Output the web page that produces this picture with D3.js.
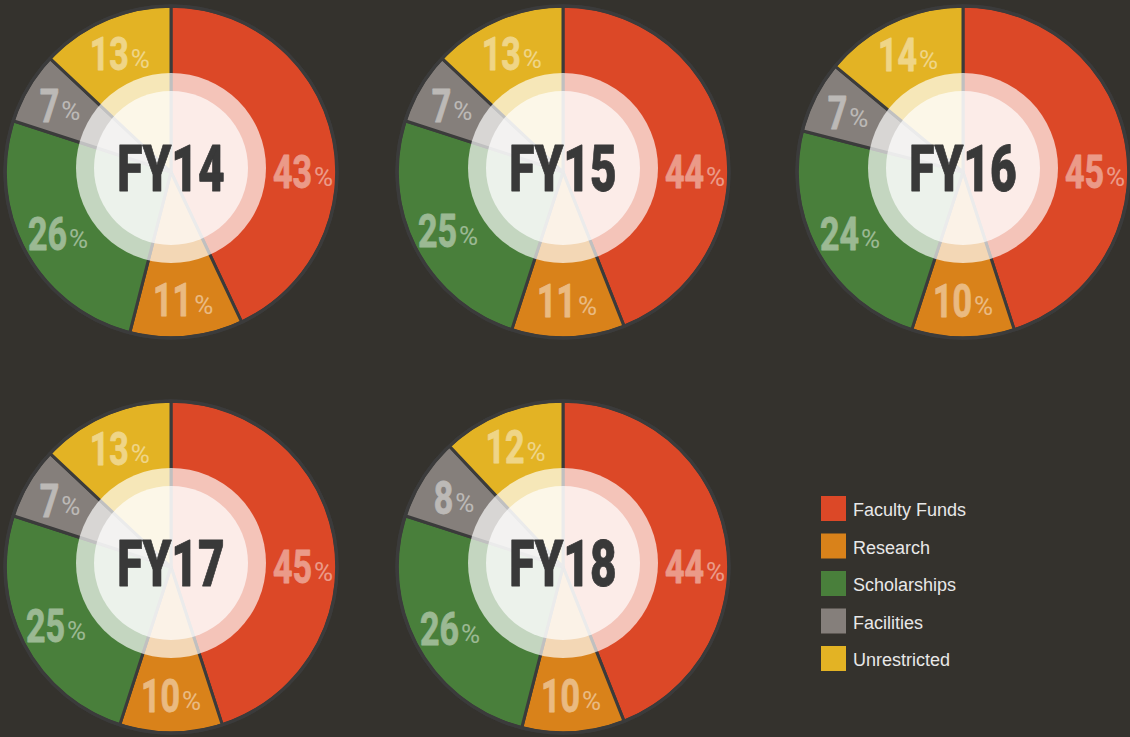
<!DOCTYPE html>
<html>
<head>
<meta charset="utf-8">
<script src="https://cdn.jsdelivr.net/npm/d3@7"></script>
<style>
  html, body { margin: 0; padding: 0; background: #34322d; }
  svg { display: block; }
</style>
</head>
<body>
<div id="chart"></div>
<script>
// data
var years = ["FY14", "FY15", "FY16", "FY17", "FY18"];
var categories = ["Faculty Funds", "Research", "Scholarships", "Facilities", "Unrestricted"];
var facultyFunds = [43, 44, 45, 45, 44];
var research = [11, 11, 10, 10, 10];
var scholarships = [26, 25, 24, 25, 26];
var facilities = [7, 7, 7, 7, 8];
var unrestricted = [13, 13, 14, 13, 12];

var series = [facultyFunds, research, scholarships, facilities, unrestricted];

// layout
var svgWidth = 1130, svgHeight = 737;
var colX = [171, 563, 963];
var rowY = [172, 567];
var radius = 166;
var labelRadius = 129;
var ringOuter = 95, ringInner = 77, ringShift = -4;

var color = d3.scaleOrdinal()
    .domain(categories)
    .range(["#dc4827", "#d9821a", "#497f3b", "#857f7b", "#e3b324"]);

var svg = d3.select('#chart').append('svg')
    .attr('width', svgWidth).attr('height', svgHeight);

svg.append('rect')
    .attr('width', svgWidth).attr('height', svgHeight)
    .attr('fill', '#34322d');

var pie = d3.pie().sort(null).value(function(d) { return d.value; });
var arc = d3.arc().innerRadius(0).outerRadius(radius);
var labelArc = d3.arc().innerRadius(labelRadius).outerRadius(labelRadius);

// label spot: the big first slice gets its label straight out to the right
function labelPos(d, j) {
    if (j === 0) return [labelRadius + 3, 0];
    return labelArc.centroid(d);
}

years.forEach(function(year, i) {
    var cx = colX[i % 3], cy = rowY[Math.floor(i / 3)];
    var rows = categories.map(function(c, j) { return {cat: c, value: series[j][i]}; });

    var g = svg.append('g')
        .attr('transform', 'translate(' + cx + ' ' + cy + ')');

    // slices
    g.selectAll('path.slice')
        .data(pie(rows))
        .enter().append('path')
        .attr('class', 'slice')
        .attr('d', arc)
        .attr('fill', function(d) { return color(d.data.cat); })
        .attr('stroke', '#3b3b3b')
        .attr('stroke-width', 3)
        .attr('stroke-linejoin', 'round');

    // outer border
    g.append('circle')
        .attr('r', radius)
        .attr('fill', 'none')
        .attr('stroke', '#3b3b3b')
        .attr('stroke-width', 3.5);

    // translucent centre rings
    g.append('circle')
        .attr('cy', ringShift)
        .attr('r', ringOuter)
        .attr('fill', '#fff')
        .attr('fill-opacity', 0.68);
    g.append('circle')
        .attr('cy', ringShift)
        .attr('r', ringInner)
        .attr('fill', '#fff')
        .attr('fill-opacity', 0.68);

    // year label
    g.append('text')
        .attr('transform', 'translate(0 ' + (ringShift + 23) + ') scale(0.72 1)')
        .attr('text-anchor', 'middle')
        .attr('font-family', 'Roboto, sans-serif')
        .attr('font-weight', 900)
        .attr('font-size', 64)
        .attr('fill', '#393939')
        .attr('stroke', '#393939')
        .attr('stroke-width', 0.8)
        .attr('stroke-linejoin', 'round')
        .text(year);

    // percentage labels
    var labels = g.selectAll('g.pct')
        .data(pie(rows))
        .enter().append('g')
        .attr('class', 'pct')
        .attr('opacity', 0.45)
        .attr('transform', function(d, j) {
            var c = labelPos(d, j);
            return 'translate(' + c[0] + ' ' + c[1] + ')';
        });

    labels.each(function(d) {
        var lg = d3.select(this);
        var sx = 0.74;
        var num = lg.append('text')
            .attr('font-family', 'Roboto, sans-serif')
            .attr('font-weight', 700)
            .attr('font-size', 46)
            .attr('fill', '#fff')
            .attr('stroke', '#fff')
            .attr('stroke-width', 0.8)
            .attr('stroke-linejoin', 'round')
            .text(d.data.value);
        var pct = lg.append('text')
            .attr('font-family', 'Roboto, sans-serif')
            .attr('font-weight', 400)
            .attr('font-size', 26)
            .attr('fill', '#fff')
            .text('%');
        var nw = num.node().getComputedTextLength() * sx;
        var pw = pct.node().getComputedTextLength();
        var x0 = -(nw + 2 + pw) / 2;
        num.attr('transform', 'translate(' + x0 + ' 16) scale(' + sx + ' 1)');
        pct.attr('x', x0 + nw + 2).attr('y', 14);
    });
});

// legend
var legend = svg.append('g')
    .attr('transform', 'translate(821 496)');

var item = legend.selectAll('g.item')
    .data(categories)
    .enter().append('g')
    .attr('class', 'item')
    .attr('transform', function(d, i) { return 'translate(0 ' + (i * 37.5) + ')'; });

item.append('rect')
    .attr('width', 25).attr('height', 25)
    .attr('fill', function(d) { return color(d); });

item.append('text')
    .attr('x', 32).attr('y', 20)
    .attr('font-family', '"Liberation Sans", Arial, sans-serif')
    .attr('font-size', 18)
    .attr('fill', '#e8e8e8')
    .text(function(d) { return d; });
</script>
</body>
</html>
